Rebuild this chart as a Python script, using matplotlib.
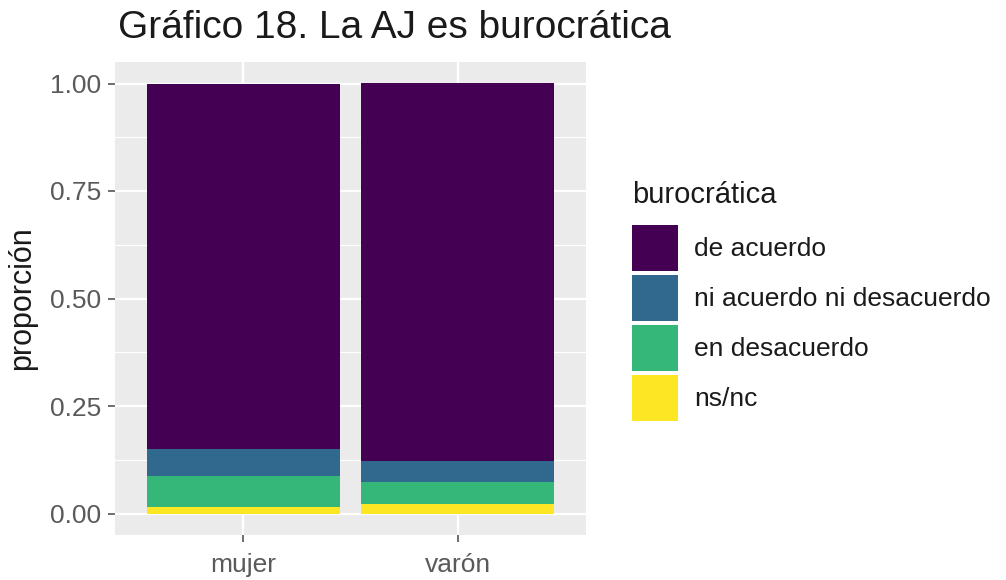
import matplotlib
matplotlib.use("Agg")
import matplotlib.pyplot as plt
import numpy as np

plt.rcParams['font.family'] = ['Liberation Sans', 'DejaVu Sans']

groups = ["mujer", "varón"]
categories = ["de acuerdo", "ni acuerdo ni desacuerdo", "en desacuerdo", "ns/nc"]
colors = ["#440154", "#31688E", "#35B779", "#FDE725"]
# proportions per category (stack order bottom->top: ns/nc, en desacuerdo, ni..., de acuerdo)
values = {
    "de acuerdo": [0.850, 0.878],
    "ni acuerdo ni desacuerdo": [0.062, 0.049],
    "en desacuerdo": [0.074, 0.052],
    "ns/nc": [0.014, 0.021],
}

fig = plt.figure(figsize=(10.06, 5.8), dpi=100)
ax = fig.add_axes([115/1006, 1-535/580, (586-115)/1006, (535-62)/580])
ax.set_facecolor("#EBEBEB")

x = np.arange(1, len(groups) + 1)
bottom = np.zeros(len(groups))
handles = {}
for cat, col in zip(reversed(categories), reversed(colors)):
    v = np.array(values[cat])
    b = ax.bar(x, v, bottom=bottom, width=0.9, color=col, zorder=3, linewidth=0)
    handles[cat] = b
    bottom += v

ax.set_xlim(0.4, 2.6)
ax.set_ylim(-0.05, 1.05)
ax.set_yticks([0, 0.25, 0.5, 0.75, 1.0])
ax.set_yticklabels(["0.00", "0.25", "0.50", "0.75", "1.00"])
ax.set_yticks([0.125, 0.375, 0.625, 0.875], minor=True)
ax.set_xticks(x)
ax.set_xticklabels(groups)
ax.grid(True, which="major", color="white", linewidth=1.6, zorder=0)
ax.grid(True, which="minor", axis="y", color="white", linewidth=0.8, zorder=0)
ax.set_axisbelow(True)
for s in ax.spines.values():
    s.set_visible(False)
ax.tick_params(axis="both", which="major", colors="#555555", length=5, width=1.2,
               labelsize=19, labelcolor="#5A5A5A", pad=5)
ax.tick_params(axis="x", which="major", pad=8)
ax.tick_params(axis="y", which="minor", length=0)
ax.set_ylabel("proporción", fontsize=22, color="#1A1A1A", labelpad=9)

fig.text(118/1006, 1-28/580, "Gráfico 18. La AJ es burocrática", fontsize=28,
         va="center", ha="left", color="#1A1A1A")

fig.text(632/1006, 1-195/580, "burocrática", fontsize=21, va="center", ha="left",
         color="#1A1A1A")
leg = fig.legend([handles[c] for c in categories], categories,
                 loc="upper left", bbox_to_anchor=(632/1006, 1-225/580),
                 frameon=False, fontsize=19,
                 handlelength=1.74, handleheight=2.30, labelspacing=0.15,
                 handletextpad=0.6, borderaxespad=0, borderpad=0)
for t in leg.get_texts():
    t.set_color("#1A1A1A")

fig.savefig("out.png", dpi=100)
